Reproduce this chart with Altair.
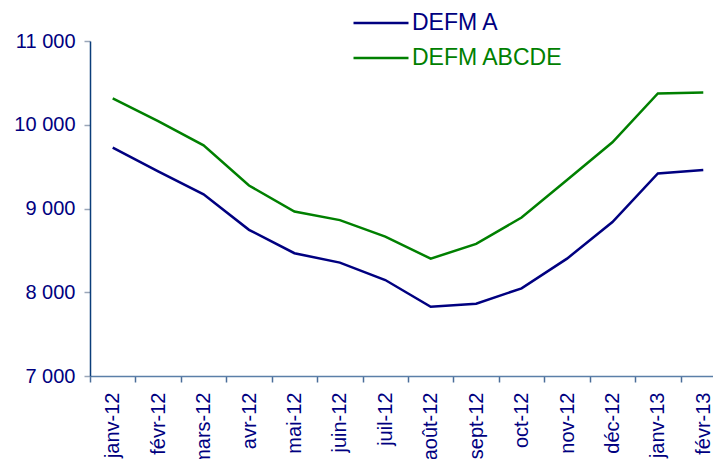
import altair as alt
import pandas as pd

months = ["janv-12", "févr-12", "mars-12", "avr-12", "mai-12", "juin-12", "juil-12",
          "août-12", "sept-12", "oct-12", "nov-12", "déc-12", "janv-13", "févr-13"]
defm_a = [9727, 9443, 9170, 8745, 8466, 8354, 8146, 7826, 7862, 8047, 8401, 8838, 9419, 9459]
defm_abcde = [10314, 10042, 9754, 9275, 8964, 8861, 8665, 8401, 8577, 8892, 9340, 9791, 10374, 10386]
series_names = ["DEFM A", "DEFM ABCDE"]
series_colors = ["#000080", "#008000"]
y_ticks = [7000, 8000, 9000, 10000, 11000]

df = pd.DataFrame({
    "mois": months + months,
    "valeur": defm_a + defm_abcde,
    "serie": [series_names[0]] * len(months) + [series_names[1]] * len(months),
})

FONT = "Liberation Sans"
NAVY = "#000080"

chart = alt.Chart(df).mark_line(strokeWidth=2.5).encode(
    x=alt.X(
        "mois:N", sort=months, bandPosition=0.5,
        scale=alt.Scale(type="band", range=[0, 636], paddingInner=0, paddingOuter=0),
        axis=alt.Axis(
            title=None, labelAngle=-90, tickBand="extent", labelFont=FONT, labelFontSize=20,
            labelColor=NAVY, labelPadding=10, tickSize=6, tickColor="#4a6d99", tickWidth=1.5,
            domainColor="#5b7fa8", domainWidth=1.5, grid=False, labelOverlap=False,
        ),
    ),
    y=alt.Y(
        "valeur:Q",
        scale=alt.Scale(domain=[7000, 11000], nice=False, zero=False),
        axis=alt.Axis(
            title=None, values=y_ticks,
            labelExpr="replace(format(datum.value, ','), ',', ' ')",
            labelFont=FONT, labelFontSize=20, labelColor=NAVY, labelPadding=9,
            tickSize=6, tickColor="#9aa6b8", tickWidth=1.5,
            domainColor="#0b3d7a", domainWidth=1.5, grid=False,
        ),
    ),
    color=alt.Color(
        "serie:N",
        scale=alt.Scale(domain=series_names, range=series_colors),
        legend=alt.Legend(
            title=None, orient="none", legendX=276, legendY=-33,
            symbolType="M-2,0H2", symbolSize=756, symbolStrokeWidth=2.5,
            labelFont=FONT, labelFontSize=23, labelOffset=16, rowPadding=8,
            labelColor={"expr": "datum.label == 'DEFM A' ? '#000080' : '#008000'"},
        ),
    ),
).properties(
    width=623, height=335,
    autosize=alt.AutoSizeParams(type="none"),
    padding={"left": 82, "top": 33, "right": 0, "bottom": 83},
).configure_view(stroke=None)

chart.save("out.html", embed_options={"renderer": "svg", "actions": False})
